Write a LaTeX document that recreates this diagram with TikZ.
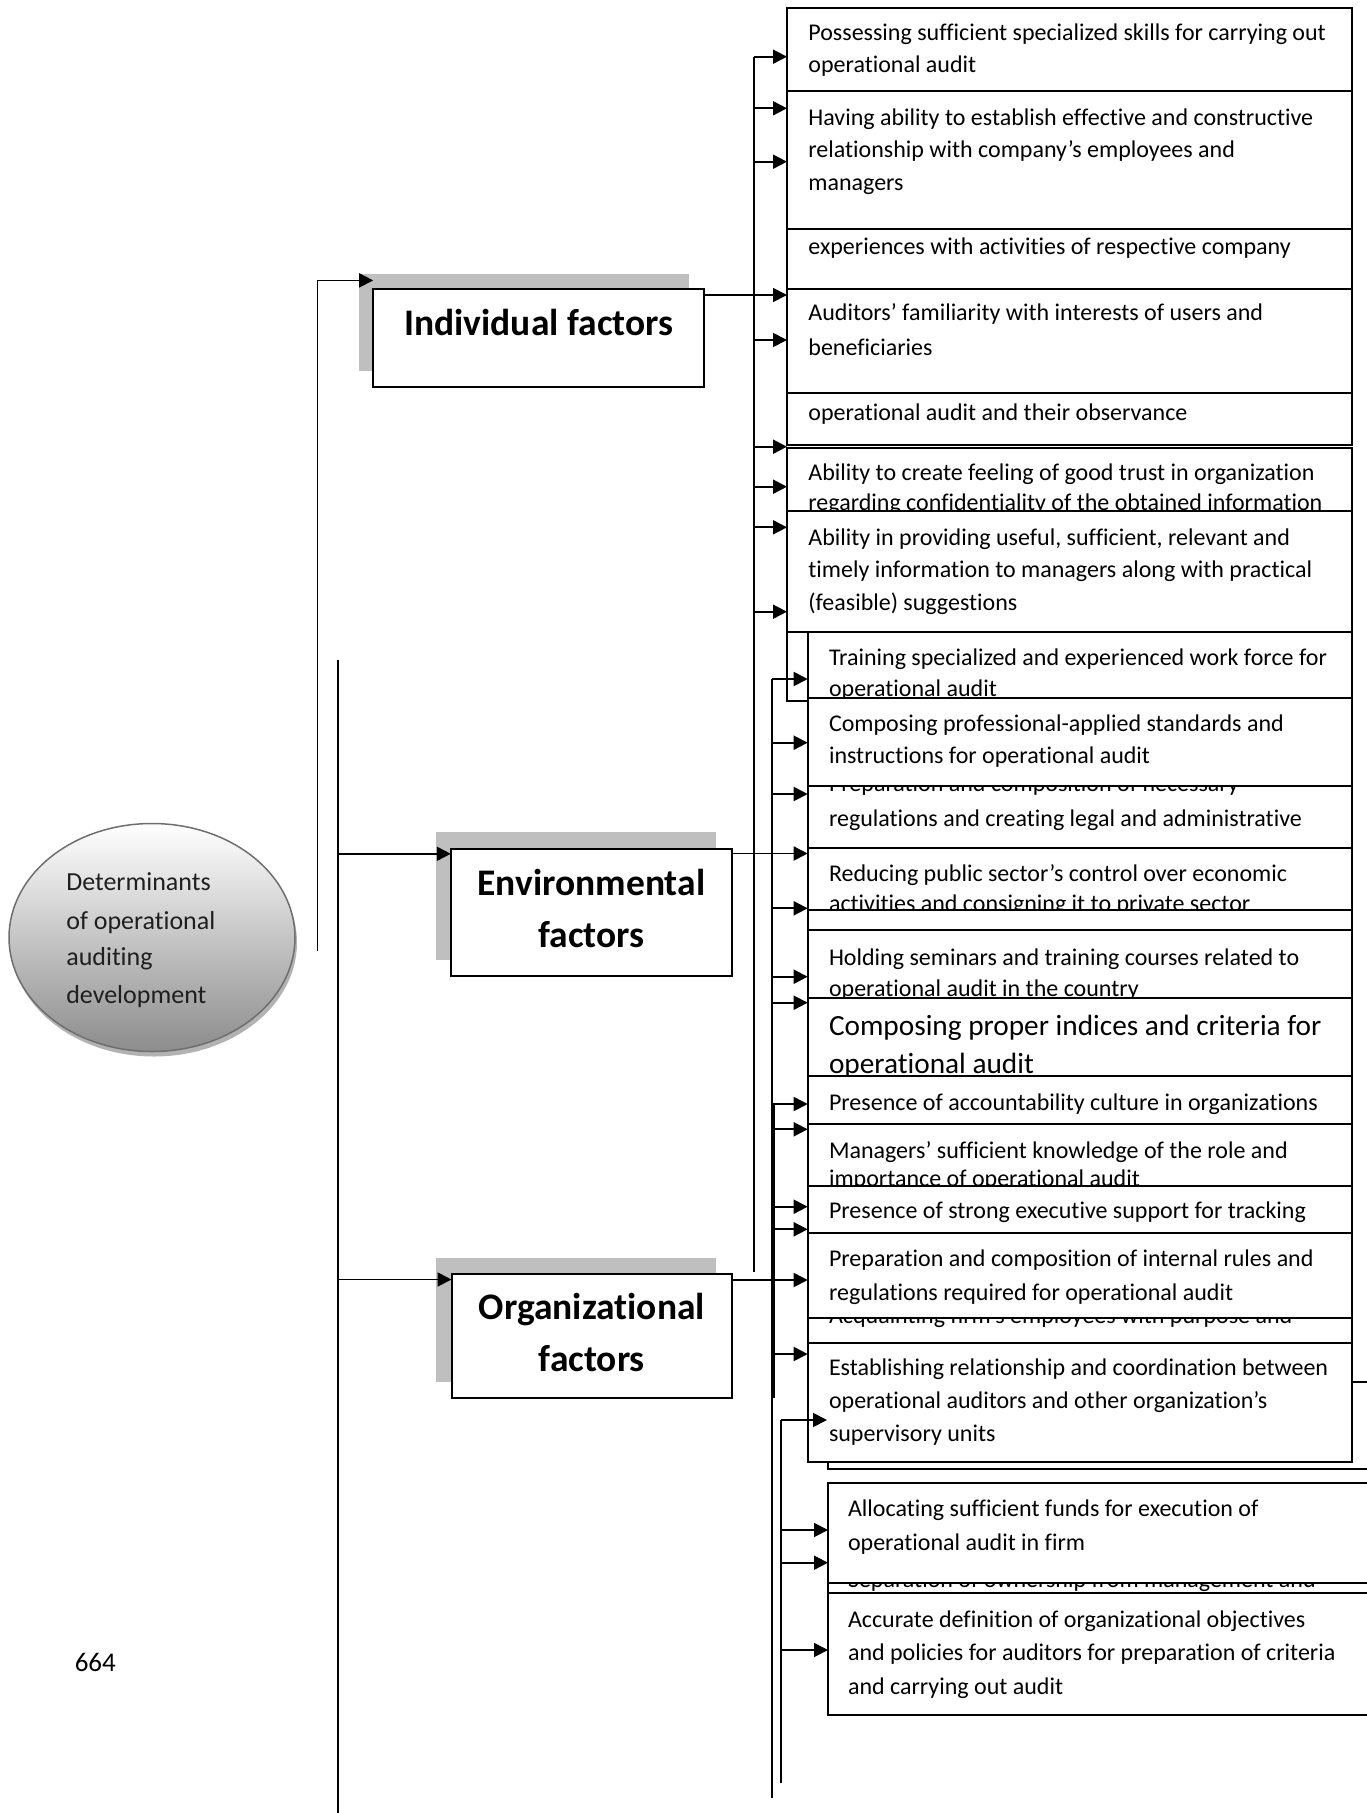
\documentclass[tikz,border=0pt]{standalone}
\usepackage{fontspec}
\setmainfont[Ligatures={NoCommon,NoContextual}]{Carlito}
\usetikzlibrary{arrows.meta,shapes.geometric,shadows}
\tikzset{
 bx/.style={draw=black,line width=2pt,fill=white,inner sep=0pt,outer sep=0pt,anchor=north west},
 itm/.style={font=\fontsize{24}{28}\selectfont,anchor=base west,inner sep=0pt,outer sep=0pt},
 bigitm/.style={font=\fontsize{29.3}{34}\selectfont,anchor=base west,inner sep=0pt,outer sep=0pt},
 fac/.style={font=\fontsize{37.5}{44}\selectfont\bfseries,anchor=base,inner sep=0pt,outer sep=0pt},
 roottxt/.style={font=\fontsize{26}{30}\selectfont,anchor=base west,inner sep=0pt,outer sep=0pt,text=black!88},
 shd/.style={fill=black!25,draw=none},
 ln/.style={line width=1.8pt},
 arr/.style={line width=1.8pt,-{Triangle[length=14pt,width=14pt]}},
}
\newcommand\mkbox[5]{\node[bx,minimum width={#4-#2},minimum height={#5-#3}] (#1) at (#2,#3) {};}
\newcommand\tl[4]{\node[itm] (#1) at (#2,#3) {#4};}
\begin{document}
\begin{tikzpicture}[x=1pt,y=-1pt]
\useasboundingbox (0,0) rectangle (1367,1813);

% ---------- root ellipse ----------
\node[ellipse,draw={rgb,255:red,110;green,110;blue,110},line width=1.5pt,
  minimum width=286pt,minimum height=228pt,
  top color=white,middle color=black!14,bottom color=black!45,
  drop shadow={shadow xshift=2pt,shadow yshift=-5pt,fill=black!30,opacity=1}] (root) at (152,937.5) {};
\node[roottxt] (r1) at (66.3,890.8) {Determinants};
\node[roottxt] (r2) at (66.3,929) {of operational};
\node[roottxt] (r3) at (66.3,965.4) {auditing};
\node[roottxt] (r4) at (66.3,1003.7) {development};

\node[font=\fontsize{27}{30}\selectfont,anchor=base west,inner sep=0pt] (pg) at (74.6,1671.7) {664};

% ---------- factor boxes ----------
\fill[shd] (358.7,273.6) rectangle (689,371);
\mkbox{ind}{373.2}{289}{704.3}{387}
\node[fac] (indt) at (538.8,335) {Individual factors};

\fill[shd] (436,832) rectangle (716,960);
\mkbox{env}{450.8}{849}{732}{976}
\node[fac] (envt1) at (591.4,895) {Environmental};
\node[fac] (envt2) at (591.4,947.3) {factors};

\fill[shd] (436,1258) rectangle (716,1382);
\mkbox{org}{451.5}{1274}{732}{1398}
\node[fac] (orgt1) at (591.8,1319.4) {Organizational};
\node[fac] (orgt2) at (591.8,1371) {factors};

% ---------- column A ----------
\mkbox{b1}{787}{8}{1352}{90.7}
\tl{b1a}{808.4}{40.7}{Possessing sufficient specialized skills for carrying out}
\tl{b1b}{808.4}{72.7}{operational audit}
\mkbox{b2}{787}{90.7}{1352}{229.3}
\tl{b2a}{808.4}{125}{Having ability to establish effective and constructive}
\tl{b2b}{808.4}{157}{relationship with company’s employees and}
\tl{b2c}{808.4}{190.7}{managers}
\mkbox{b3}{787}{229.3}{1352}{288.7}
\tl{b3a}{808.4}{254}{experiences with activities of respective company}
\mkbox{b4}{787}{288.7}{1352}{392.7}
\tl{b4a}{808.4}{320.7}{Auditors’ familiarity with interests of users and}
\tl{b4b}{808.4}{355}{beneficiaries}
\mkbox{b5}{787}{392.7}{1352}{445}
\tl{b5a}{808.4}{420.7}{operational audit and their observance}
\mkbox{b6}{787}{448}{1352}{540}
\tl{b6a}{808.4}{480.7}{Ability to create feeling of good trust in organization}
\tl{b6b}{808.4}{510}{regarding confidentiality of the obtained information}
\mkbox{b7}{787}{511}{1352}{631.7}
\tl{b7a}{808.4}{545}{Ability in providing useful, sufficient, relevant and}
\tl{b7b}{808.4}{577.3}{timely information to managers along with practical}
\tl{b7c}{808.4}{610.7}{(feasible) suggestions}
\mkbox{bu}{787}{631.7}{1352}{701}

% ---------- column B ----------
\mkbox{b8}{807.7}{631.7}{1352}{720}
\tl{b8a}{829}{665}{Training specialized and experienced work force for}
\tl{b8b}{829}{696.7}{operational audit}
\mkbox{b10}{807.7}{770}{1352}{850}
\tl{b10a}{829}{791.7}{Preparation and composition of necessary}
\tl{b10b}{829}{826.7}{regulations and creating legal and administrative}
\mkbox{b9}{807.7}{698.3}{1352}{786}
\tl{b9a}{829}{731.7}{Composing professional-applied standards and}
\tl{b9b}{829}{763.3}{instructions for operational audit}
\mkbox{b11}{807.7}{848.3}{1352}{910}
\tl{b11a}{829}{881.7}{Reducing public sector’s control over economic}
\tl{b11b}{829}{911.7}{activities and consigning it to private sector}
\mkbox{b12}{807.7}{910}{1352}{950}
\mkbox{b13}{807.7}{930}{1352}{998.3}
\tl{b13a}{829}{965}{Holding seminars and training courses related to}
\tl{b13b}{829}{996.7}{operational audit in the country}
\mkbox{b14}{807.7}{998.3}{1352}{1076}
\node[bigitm] (b14a) at (829,1035) {Composing proper indices and criteria for};
\node[bigitm] (b14b) at (829,1073.3) {operational audit};
\mkbox{b15}{807.7}{1076}{1352}{1124}
\tl{b15a}{829}{1110}{Presence of accountability culture in organizations}
\mkbox{b16}{807.7}{1124}{1352}{1186}
\tl{b16a}{829}{1158.3}{Managers’ sufficient knowledge of the role and}
\tl{b16b}{829}{1186.7}{importance of operational audit}
\mkbox{b17}{807.7}{1186}{1352}{1233.3}
\tl{b17a}{829}{1218.3}{Presence of strong executive support for tracking}
\mkbox{b20}{807.7}{1300}{1352}{1360}
\tl{b20a}{829}{1323}{Acquainting firm’s employees with purpose and}
\mkbox{b19}{807.7}{1233.3}{1352}{1318.3}
\tl{b19a}{829}{1266.7}{Preparation and composition of internal rules and}
\tl{b19b}{829}{1300}{regulations required for operational audit}
\mkbox{bk}{828}{1381.7}{1400}{1469}
\mkbox{b18}{807.7}{1342.7}{1352}{1461.7}
\tl{b18a}{829}{1375}{Establishing relationship and coordination between}
\tl{b18b}{829}{1408.3}{operational auditors and other organization’s}
\tl{b18c}{829}{1441.7}{supervisory units}

% ---------- column C ----------
\mkbox{c2}{828}{1560}{1400}{1600}
\tl{c2a}{848}{1587}{Separation of ownership from management and}
\mkbox{c1}{828}{1482.7}{1400}{1583.3}
\tl{c1a}{848}{1516.7}{Allocating sufficient funds for execution of}
\tl{c1b}{848}{1550}{operational audit in firm}
\mkbox{c3}{828}{1593.3}{1400}{1715}
\tl{c3a}{848}{1627}{Accurate definition of organizational objectives}
\tl{c3b}{848}{1660.5}{and policies for auditors for preparation of criteria}
\tl{c3c}{848}{1694}{and carrying out audit}

% ---------- connectors ----------
% left trunks
\coordinate (L1top) at (317.5,280.4);
\coordinate (L1bot) at (317.5,951);
\draw[ln] (L1bot) -- (L1top);
\draw[arr] (L1top) -- (L1top -| ind.west);
\coordinate (L2top) at (338,660);
\coordinate (L2bot) at (338,1813);
\draw[ln] (L2top) -- (L2bot);
\draw[arr] (338,853.8) -- (338,853.8 -| env.west);
\draw[arr] (338,1279.5) -- (338,1279.5 -| org.west);

% trunk T1
\coordinate (T1top) at (754,56.7);
\coordinate (T1bot) at (754,1271.7);
\draw[ln] (T1top) -- (T1bot);
\foreach \yy in {56.7,108.3,161.7,340,446.7,486.7,527.3,611.7}
  \draw[arr] (754,\yy) -- (754,\yy -| b1.west);
\draw[arr] (ind.east |- 0,295) -- (754,295 -| b1.west);

% trunk T2
\coordinate (T2top) at (772,679);
\coordinate (T2bot) at (772,1798);
\draw[ln] (T2top) -- (T2bot);
\draw[ln] (773.6,1104) -- (773.6,1398);
\foreach \yy in {679,742.7,794,908.3,976.7,1002.7,1104,1129.3,1206.7,1229.3,1354}
  \draw[arr] (772,\yy) -- (772,\yy -| b8.west);
\draw[arr] (env.east |- 0,853.5) -- (772,853.5 -| b8.west);
\draw[arr] (org.east |- 0,1280) -- (772,1280 -| b8.west);

% trunk T3
\coordinate (T3top) at (781,1420);
\coordinate (T3bot) at (781,1783);
\draw[ln] (T3top) -- (T3bot);
\draw[arr] (T3top) -- (827,1420);
\foreach \yy in {1530,1562.7,1650}
  \draw[arr] (781,\yy) -- (781,\yy -| c1.west);
\end{tikzpicture}
\end{document}
